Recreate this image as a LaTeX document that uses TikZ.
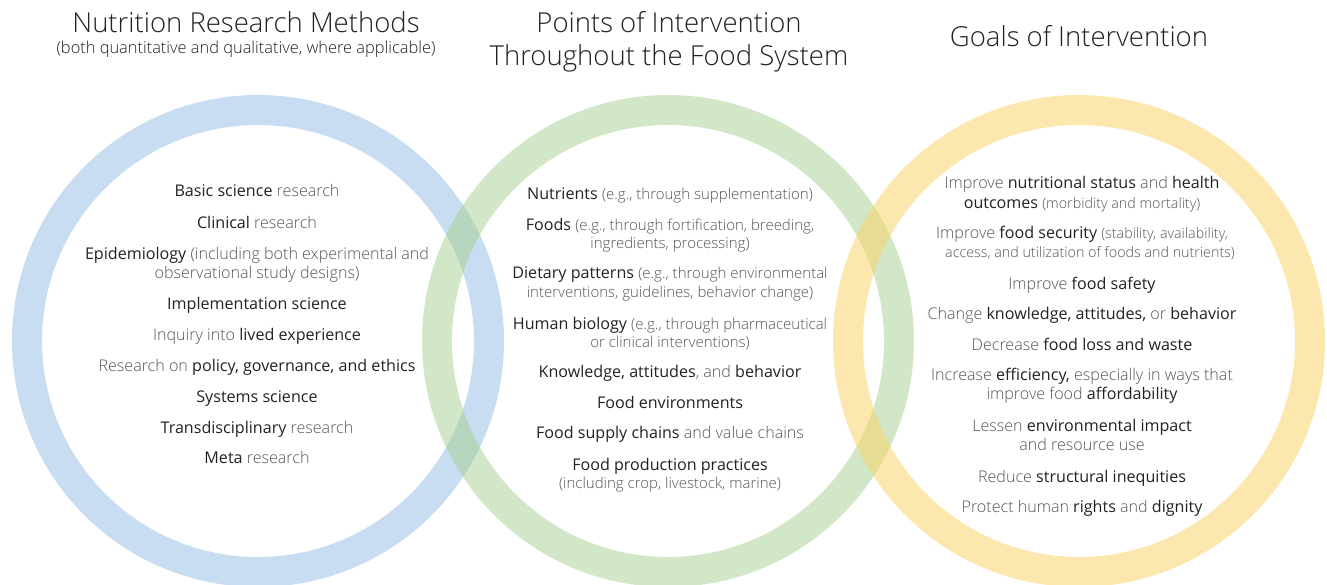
\documentclass[tikz,border=0pt]{standalone}
\usepackage{fontspec}
\setmainfont{Open Sans}
\newfontfamily\osl{Open Sans Light}
\newfontfamily\osr{Open Sans}
\definecolor{ringblue}{RGB}{147,189,229}
\definecolor{ringgreen}{RGB}{167,209,145}
\definecolor{ringyellow}{RGB}{251,211,97}
\definecolor{tc}{RGB}{34,34,34}
\definecolor{gr}{RGB}{85,85,85}
\newcommand{\hl}[1]{{\osr\color{tc}#1}}
\newcommand{\sm}[1]{{\fontsize{15}{17}\selectfont #1}}
\newcommand{\smr}[1]{{\fontsize{14.3}{17}\selectfont #1}}
\tikzset{
  ring/.style={line width=30pt, opacity=0.5},
  ttl/.style={font=\osl\fontsize{27.5}{30}\selectfont, text=tc, inner sep=0, anchor=base},
  subttl/.style={font=\osl\fontsize{16.4}{18}\selectfont, text=tc, inner sep=0, anchor=base},
  itm/.style={font=\osl\fontsize{16.1}{18}\selectfont, text=gr, inner sep=0, anchor=base},
}
\begin{document}
\begin{tikzpicture}[x=1pt,y=-1pt]
\useasboundingbox (0,0) rectangle (1327,585);
\fill[white] (0,0) rectangle (1327,585);
\clip (0,0) rectangle (1327,585);
\coordinate (cb) at (258,341);
\coordinate (cg) at (668,341);
\coordinate (cy) at (1079,341);
\draw[ring, ringblue] (cb) circle[radius=231pt];
\draw[ring, ringgreen] (cg) circle[radius=231pt];
\draw[ring, ringyellow] (cy) circle[radius=231pt];
% titles
\node[ttl] (t1) at (246,33) {Nutrition Research Methods};
\node[subttl] (t1s) at (246,54) {(both quantitative and qualitative, where applicable)};
\node[ttl] (t2a) at (669,33) {Points of Intervention};
\node[ttl] (t2b) at (669,66) {Throughout the Food System};
\node[ttl] (t3) at (1079,47) {Goals of Intervention};
% left column
\node[itm] (a1) at (257,197) {\hl{Basic science} research};
\node[itm] (a2) at (257,229) {\hl{Clinical} research};
\node[itm] (a3) at (257,259) {\hl{Epidemiology} (including both experimental and};
\node[itm] (a3b) at (257,278) {observational study designs)};
\node[itm] (a4) at (257,309) {\hl{Implementation science}};
\node[itm] (a5) at (257,340) {Inquiry into \hl{lived experience}};
\node[itm] (a6) at (257,371) {Research on \hl{policy, governance, and ethics}};
\node[itm] (a7) at (257,402) {\hl{Systems science}};
\node[itm] (a8) at (257,433) {\hl{Transdisciplinary} research};
\node[itm] (a9) at (257,463) {\hl{Meta} research};
% middle column
\node[itm] (b1) at (670,200) {\hl{Nutrients} \sm{(e.g., through supplementation)}};
\node[itm] (b2) at (670,231) {\hl{Foods} \sm{(e.g., through fortification, breeding,}};
\node[itm] (b2b) at (670,249) {\sm{ingredients, processing)}};
\node[itm] (b3) at (670,279) {\hl{Dietary patterns} \sm{(e.g., through environmental}};
\node[itm] (b3b) at (670,298) {\sm{interventions, guidelines, behavior change)}};
\node[itm] (b4) at (670,329) {\hl{Human biology} \sm{(e.g., through pharmaceutical}};
\node[itm] (b4b) at (670,347) {\sm{or clinical interventions)}};
\node[itm] (b5) at (670,377) {\hl{Knowledge, attitudes}, and \hl{behavior}};
\node[itm] (b6) at (670,408) {\hl{Food environments}};
\node[itm] (b7) at (670,438) {\hl{Food supply chains} and value chains};
\node[itm] (b8) at (670,470) {\hl{Food production practices}};
\node[itm] (b8b) at (670,488) {\sm{(including crop, livestock, marine)}};
% right column
\node[itm] (c1) at (1082,189) {Improve \hl{nutritional status} and \hl{health}};
\node[itm] (c1b) at (1082,209) {\hl{outcomes} \smr{(morbidity and mortality)}};
\node[itm] (c2) at (1082,239) {Improve \hl{food security} \smr{(stability, availability,}};
\node[itm] (c2b) at (1090,258) {\smr{access, and utilization of foods and nutrients)}};
\node[itm] (c3) at (1082,289) {Improve \hl{food safety}};
\node[itm] (c4) at (1082,319) {Change \hl{knowledge, attitudes,} or \hl{behavior}};
\node[itm] (c5) at (1082,350) {Decrease \hl{food loss and waste}};
\node[itm] (c6) at (1082,380) {Increase \hl{efficiency,} especially in ways that};
\node[itm] (c6b) at (1082,399) {improve food \hl{affordability}};
\node[itm] (c7) at (1082,431) {Lessen \hl{environmental impact}};
\node[itm] (c7b) at (1082,450) {and resource use};
\node[itm] (c8) at (1082,482) {Reduce \hl{structural inequities}};
\node[itm] (c9) at (1082,512) {Protect human \hl{rights} and \hl{dignity}};
\end{tikzpicture}
\end{document}
